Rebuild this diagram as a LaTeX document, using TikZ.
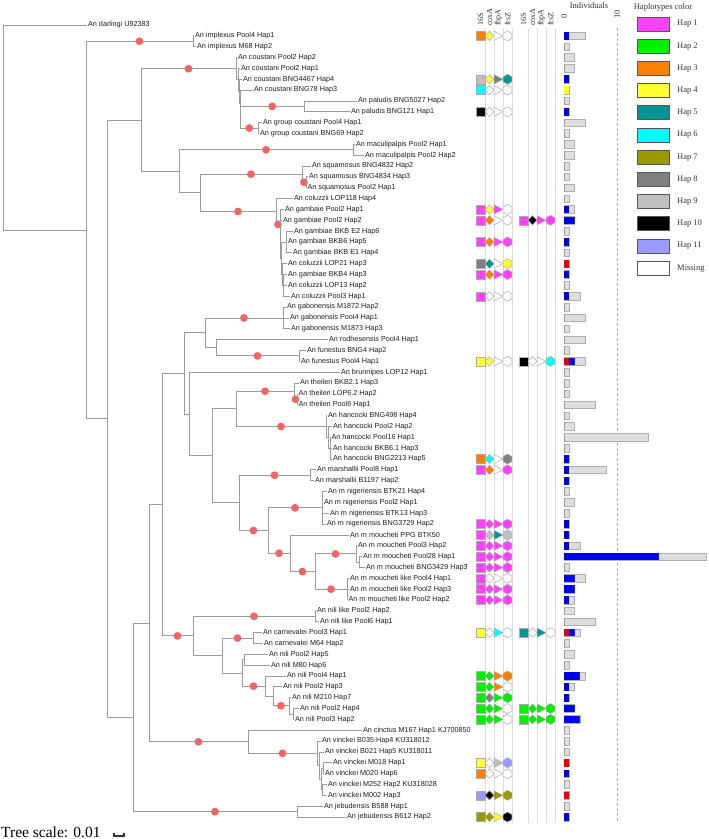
\documentclass[tikz,border=0pt]{standalone}
\usepackage{fontspec}
\setmainfont{Liberation Serif}
\newfontfamily\lsans{Liberation Sans}
\usetikzlibrary{calc}
\definecolor{treec}{RGB}{155,155,155}
\definecolor{supc}{RGB}{240,100,100}
\definecolor{labc}{RGB}{30,30,30}
\definecolor{serc}{RGB}{50,50,50}
\definecolor{colc}{RGB}{220,220,220}
\definecolor{symc}{RGB}{170,170,170}
\definecolor{barf}{RGB}{222,222,222}
\definecolor{barb}{RGB}{175,175,175}
\definecolor{barR}{RGB}{235,0,0}
\definecolor{barB}{RGB}{0,0,240}
\definecolor{barY}{RGB}{255,255,0}
\definecolor{legc}{RGB}{85,85,85}
\definecolor{hA}{RGB}{255,64,255}
\definecolor{hB}{RGB}{0,240,0}
\definecolor{hC}{RGB}{255,128,0}
\definecolor{hD}{RGB}{255,255,51}
\definecolor{hE}{RGB}{0,150,150}
\definecolor{hF}{RGB}{0,255,255}
\definecolor{hG}{RGB}{153,153,0}
\definecolor{hH}{RGB}{128,128,128}
\definecolor{hI}{RGB}{192,192,192}
\definecolor{hJ}{RGB}{0,0,0}
\definecolor{hK}{RGB}{153,153,255}
\definecolor{hM}{RGB}{255,255,255}
\tikzset{
  tree/.style={draw=treec, line width=0.9pt},
  sup/.style={fill=supc},
  lab/.style={anchor=west, inner sep=0pt, text=labc, font=\lsans\fontsize{7.25}{8}\selectfont},
  sym/.style={draw=symc, line width=0.5pt},
  barg/.style={fill=barf, draw=barb, line width=0.6pt},
  ser/.style={inner sep=0pt, text=serc, font=\fontsize{8.5}{10}\selectfont},
  legbox/.style={draw=legc, line width=0.9pt},
  colline/.style={draw=colc, line width=0.9pt}
}
\newcommand\tleaf[4]{\coordinate (#1) at (#3,{25+(#2-1)*10.85}); \node[lab] (#1t) at (#3+1.4,{25+(#2-1)*10.85}) {#4};}
\newcommand\inode[4]{\path let \p1=($(#3)!0.5!(#4)$) in coordinate (#1) at (#2pt,\y1);}
\newcommand\tedge[2]{\draw[tree] (#1) |- (#2);}
\newcommand\sedge[2]{\draw[tree] (#1) |- (#2); \fill[sup] ($(#1 |- #2)!0.5!(#2)$) circle[radius=3.9pt];}
\newcommand\hapset[6]{%
  \pgfmathsetmacro\yy{25+(#1-1)*10.85}%
  \filldraw[sym,fill=#3] (#2,\yy-4.5) rectangle (#2+9,\yy+4.5);
  \filldraw[sym,fill=#4] (#2+9,\yy) -- (#2+13.5,\yy-4.6) -- (#2+18,\yy) -- (#2+13.5,\yy+4.6) -- cycle;
  \filldraw[sym,fill=#5] (#2+18,\yy-4.6) -- (#2+27,\yy) -- (#2+18,\yy+4.6) -- cycle;
  \filldraw[sym,fill=#6] (#2+31.5,\yy-5) -- (#2+35.8,\yy-2.5) -- (#2+35.8,\yy+2.5) -- (#2+31.5,\yy+5) -- (#2+27.2,\yy+2.5) -- (#2+27.2,\yy-2.5) -- cycle;
}
\begin{document}
\begin{tikzpicture}[x=1pt,y=-1pt]
\fill[white] (0,0) rectangle (709,839);
\useasboundingbox (0,0) rectangle (709,839);
% ---------- leaves ----------
\tleaf{l1}{1}{86.5}{An darlingi U92383}
\tleaf{l2}{2}{193.5}{An implexus Pool4 Hap1}
\tleaf{l3}{3}{195.5}{An implexus M68 Hap2}
\tleaf{l4}{4}{236.5}{An coustani Pool2 Hap2}
\tleaf{l5}{5}{239.5}{An coustani Pool2 Hap1}
\tleaf{l6}{6}{241.5}{An coustani BNG4467 Hap4}
\tleaf{l7}{7}{252.5}{An coustani BNG78 Hap3}
\tleaf{l8}{8}{356.5}{An paludis BNG5027 Hap2}
\tleaf{l9}{9}{349.5}{An paludis BNG121 Hap1}
\tleaf{l10}{10}{261.5}{An group coustani Pool4 Hap1}
\tleaf{l11}{11}{258.5}{An group coustani BNG69 Hap2}
\tleaf{l12}{12}{354.5}{An maculipalpis Pool2 Hap1}
\tleaf{l13}{13}{363.5}{An maculipalpis Pool2 Hap2}
\tleaf{l14}{14}{310.5}{An squamosus BNG4832 Hap2}
\tleaf{l15}{15}{307.5}{An squamosus BNG4834 Hap3}
\tleaf{l16}{16}{306}{An squamosus Pool2 Hap1}
\tleaf{l17}{17}{292.5}{An coluzzii LOP118 Hap4}
\tleaf{l18}{18}{283.5}{An gambaie Pool2 Hap1}
\tleaf{l19}{19}{281.5}{An gambiae Pool2 Hap2}
\tleaf{l20}{20}{292.5}{An gambiae BKB E2 Hap6}
\tleaf{l21}{21}{286.5}{An gambiae BKB6 Hap5}
\tleaf{l22}{22}{291.5}{An gambiae BKB E1 Hap4}
\tleaf{l23}{23}{286.5}{An coluzzii LOP21 Hap3}
\tleaf{l24}{24}{286.5}{An gambiae BKB4 Hap3}
\tleaf{l25}{25}{286.5}{An coluzzii LOP13 Hap2}
\tleaf{l26}{26}{289.5}{An coluzzii Pool3 Hap1}
\tleaf{l27}{27}{285.5}{An gabonensis M1872 Hap2}
\tleaf{l28}{28}{288.5}{An gabonensis Pool4 Hap1}
\tleaf{l29}{29}{289.5}{An gabonensis M1873 Hap3}
\tleaf{l30}{30}{327.5}{An rodhesensis Pool4 Hap1}
\tleaf{l31}{31}{305.5}{An funestus BNG4 Hap2}
\tleaf{l32}{32}{299.5}{An funestus Pool4 Hap1}
\tleaf{l33}{33}{339.5}{An brunnipes LOP12 Hap1}
\tleaf{l34}{34}{298.5}{An theileri BKB2.1 Hap3}
\tleaf{l35}{35}{297}{An theileri LOP6.2 Hap2}
\tleaf{l36}{36}{297}{An theileri Pool6 Hap1}
\tleaf{l37}{37}{326.5}{An hancocki BNG498 Hap4}
\tleaf{l38}{38}{331.5}{An hancocki Pool2 Hap2}
\tleaf{l39}{39}{330}{An hancocki Pool16 Hap1}
\tleaf{l40}{40}{331.5}{An hancocki BKB6.1 Hap3}
\tleaf{l41}{41}{331.5}{An hancocki BNG2213 Hap5}
\tleaf{l42}{42}{315.5}{An marshallii Pool8 Hap1}
\tleaf{l43}{43}{313.5}{An marshallii B1197 Hap2}
\tleaf{l44}{44}{326.5}{An m nigeriensis BTK21 Hap4}
\tleaf{l45}{45}{322.5}{An m nigeriensis Pool2 Hap1}
\tleaf{l46}{46}{328.5}{An m nigeriensis BTK13 Hap3}
\tleaf{l47}{47}{325.5}{An m nigeriensis BNG3729 Hap2}
\tleaf{l48}{48}{348.5}{An m moucheti PPG BTK50}
\tleaf{l49}{49}{356.5}{An m moucheti Pool3 Hap2}
\tleaf{l50}{50}{361.5}{An m moucheti Pool28 Hap1}
\tleaf{l51}{51}{364.5}{An m moucheti BNG3429 Hap3}
\tleaf{l52}{52}{348.5}{An m moucheti like Pool4 Hap1}
\tleaf{l53}{53}{348.5}{An m moucheti like Pool2 Hap3}
\tleaf{l54}{54}{347}{An m moucheti like Pool2 Hap2}
\tleaf{l55}{55}{315.5}{An nili like Pool2 Hap2}
\tleaf{l56}{56}{318.5}{An nili like Pool6 Hap1}
\tleaf{l57}{57}{261.5}{An carnevalei Pool3 Hap1}
\tleaf{l58}{58}{262.5}{An carnevalei M64 Hap2}
\tleaf{l59}{59}{267.5}{An nili Pool2 Hap5}
\tleaf{l60}{60}{269.5}{An nili M80 Hap6}
\tleaf{l61}{61}{285.5}{An nili Pool4 Hap1}
\tleaf{l62}{62}{281.5}{An nili Pool2 Hap3}
\tleaf{l63}{63}{290.5}{An nili M210 Hap7}
\tleaf{l64}{64}{298.5}{An nili Pool2 Hap4}
\tleaf{l65}{65}{293.5}{An nili Pool3 Hap2}
\tleaf{l66}{66}{361.5}{An cinctus M167 Hap1 KJ700850}
\tleaf{l67}{67}{320.5}{An vinckei B035 Hap4 KU318012}
\tleaf{l68}{68}{323.5}{An vinckei B021 Hap5 KU318011}
\tleaf{l69}{69}{331.5}{An vinckei M018 Hap1}
\tleaf{l70}{70}{323.5}{An vinckei M020 Hap6}
\tleaf{l71}{71}{326.5}{An vinckei M252 Hap2 KU318028}
\tleaf{l72}{72}{326.5}{An vinckei M002 Hap3}
\tleaf{l73}{73}{322.5}{An jebudensis B588 Hap1}
\tleaf{l74}{74}{345.5}{An jebudensis B612 Hap2}
% ---------- internal nodes ----------
\inode{impl}{193}{l2}{l3}
\inode{pal}{304}{l8}{l9}
\inode{grp}{258}{l10}{l11}
\inode{E4}{240.5}{pal}{grp}
\inode{E3}{240}{l7}{E4}
\inode{E2}{239}{l6}{E3}
\inode{E1}{238}{l5}{E2}
\inode{E}{236}{l4}{E1}
\inode{mac}{353}{l12}{l13}
\inode{squB}{306}{l15}{l16}
\inode{squ}{302}{l14}{squB}
\inode{G2}{286}{l20}{l22}
\inode{G1e}{283}{l24}{l26}
\inode{G1d}{282}{l23}{G1e}
\inode{G1c}{281}{G2}{G1d}
\inode{G1b}{280.5}{l19}{G1c}
\inode{G1}{280}{l18}{G1b}
\inode{G0}{276}{l17}{G1}
\inode{F}{200}{squ}{G0}
\inode{D}{179}{mac}{F}
\inode{C}{141}{E}{D}
\inode{gab}{283}{l27}{l29}
\inode{fun}{299}{l31}{l32}
\inode{N3b}{216}{l30}{fun}
\inode{N3}{205}{gab}{N3b}
\inode{theB}{297}{l35}{l36}
\inode{the}{294}{l34}{theB}
\inode{hanC}{330}{l39}{l41}
\inode{hanB}{328}{l38}{hanC}
\inode{han}{326}{l37}{hanB}
\inode{N6}{236}{the}{han}
\inode{mar}{310}{l42}{l43}
\inode{nig}{322}{l44}{l47}
\inode{mouB}{359}{l50}{l51}
\inode{mou}{356}{l49}{mouB}
\inode{like}{347}{l52}{l54}
\inode{N10}{315}{mou}{like}
\inode{N9}{290}{l48}{N10}
\inode{N8}{268}{nig}{N9}
\inode{N7}{239}{mar}{N8}
\inode{N5}{212}{N6}{N7}
\inode{N4}{189}{l33}{N5}
\inode{N2}{184}{N3}{N4}
\inode{nl}{315}{l55}{l56}
\inode{car}{253}{l57}{l58}
\inode{S}{244}{l59}{l60}
\inode{W}{293}{l64}{l65}
\inode{V}{289}{l63}{W}
\inode{U}{273}{l62}{V}
\inode{T}{265}{l61}{U}
\inode{R}{242}{S}{T}
\inode{Q}{222}{car}{R}
\inode{nA}{193}{nl}{Q}
\inode{N1}{162}{N2}{nA}
\inode{vinE}{322}{l71}{l72}
\inode{vinD}{323}{l69}{l70}
\inode{vinC}{321}{vinD}{vinE}
\inode{vinB}{319}{l68}{vinC}
\inode{vin}{317}{l67}{vinB}
\inode{cv}{248}{l66}{vin}
\inode{Y}{149}{N1}{cv}
\inode{jeb}{297}{l73}{l74}
\inode{X}{133}{Y}{jeb}
\inode{B}{107}{C}{X}
\inode{A}{86}{impl}{B}
\inode{root}{3}{l1}{A}
% ---------- edges ----------
\tedge{root}{l1} \tedge{root}{A}
\sedge{A}{impl} \tedge{A}{B}
\tedge{impl}{l2} \tedge{impl}{l3}
\tedge{B}{C} \tedge{B}{X}
\sedge{C}{E} \tedge{C}{D}
\tedge{E}{l4} \tedge{E}{E1}
\tedge{E1}{l5} \tedge{E1}{E2}
\tedge{E2}{l6} \tedge{E2}{E3}
\tedge{E3}{l7} \tedge{E3}{E4}
\sedge{E4}{pal} \sedge{E4}{grp}
\tedge{pal}{l8} \tedge{pal}{l9}
\tedge{grp}{l10} \tedge{grp}{l11}
\sedge{D}{mac} \tedge{D}{F}
\tedge{mac}{l12} \tedge{mac}{l13}
\sedge{F}{squ} \sedge{F}{G0}
\tedge{squ}{l14} \sedge{squ}{squB}
\tedge{squB}{l15} \tedge{squB}{l16}
\tedge{G0}{l17} \sedge{G0}{G1}
\tedge{G1}{l18} \tedge{G1}{G1b}
\tedge{G1b}{l19} \tedge{G1b}{G1c}
\tedge{G1c}{G2} \tedge{G1c}{G1d}
\tedge{G2}{l20} \tedge{G2}{l21} \tedge{G2}{l22}
\tedge{G1d}{l23} \tedge{G1d}{G1e}
\tedge{G1e}{l24} \tedge{G1e}{l25} \tedge{G1e}{l26}
\tedge{X}{Y} \sedge{X}{jeb}
\tedge{jeb}{l73} \tedge{jeb}{l74}
\tedge{Y}{N1} \sedge{Y}{cv}
\tedge{cv}{l66} \sedge{cv}{vin}
\tedge{vin}{l67} \tedge{vin}{vinB}
\tedge{vinB}{l68} \tedge{vinB}{vinC}
\tedge{vinC}{vinD} \tedge{vinC}{vinE}
\tedge{vinD}{l69} \tedge{vinD}{l70}
\tedge{vinE}{l71} \tedge{vinE}{l72}
\tedge{N1}{N2} \sedge{N1}{nA}
\tedge{N2}{N3} \tedge{N2}{N4}
\sedge{N3}{gab} \tedge{N3}{N3b}
\tedge{gab}{l27} \tedge{gab}{l28} \tedge{gab}{l29}
\tedge{N3b}{l30} \sedge{N3b}{fun}
\tedge{fun}{l31} \tedge{fun}{l32}
\tedge{N4}{l33} \tedge{N4}{N5}
\tedge{N5}{N6} \tedge{N5}{N7}
\sedge{N6}{the} \sedge{N6}{han}
\tedge{the}{l34} \sedge{the}{theB}
\tedge{theB}{l35} \tedge{theB}{l36}
\tedge{han}{l37} \tedge{han}{hanB}
\tedge{hanB}{l38} \tedge{hanB}{hanC}
\tedge{hanC}{l39} \tedge{hanC}{l40} \tedge{hanC}{l41}
\sedge{N7}{mar} \sedge{N7}{N8}
\tedge{mar}{l42} \tedge{mar}{l43}
\sedge{N8}{nig} \sedge{N8}{N9}
\tedge{nig}{l44} \tedge{nig}{l45} \tedge{nig}{l46} \tedge{nig}{l47}
\tedge{N9}{l48} \sedge{N9}{N10}
\sedge{N10}{mou} \sedge{N10}{like}
\tedge{mou}{l49} \tedge{mou}{mouB}
\tedge{mouB}{l50} \tedge{mouB}{l51}
\tedge{like}{l52} \tedge{like}{l53} \tedge{like}{l54}
\sedge{nA}{nl} \tedge{nA}{Q}
\tedge{nl}{l55} \tedge{nl}{l56}
\sedge{Q}{car} \tedge{Q}{R}
\tedge{car}{l57} \tedge{car}{l58}
\tedge{R}{S} \sedge{R}{T}
\tedge{S}{l59} \tedge{S}{l60}
\tedge{T}{l61} \tedge{T}{U}
\tedge{U}{l62} \sedge{U}{V}
\tedge{V}{l63} \tedge{V}{W}
\tedge{W}{l64} \tedge{W}{l65}
% ---------- gene columns ----------
\foreach \cx in {485,494,503,512,528,537,546,555}{
  \draw[colline] (\cx,28) -- (\cx,823);
}
\foreach \cx/\gn/\nm in {480.5/16S/ga, 489.5/coxA/gb, 498.5/fbpA/gc, 507.5/ftsZ/gd, 523.5/16S/ge, 532.5/coxA/gf, 541.5/fbpA/gg, 550.5/ftsZ/gh}{
  \node[ser, rotate=90, anchor=west, font=\fontsize{8}{9}\selectfont] (\nm) at (\cx,26) {\gn};
}
\foreach \rw/\ca/\cb/\cc/\cd in {2/hC/hD/hM/hM, 6/hI/hD/hH/hE, 7/hF/hM/hM/hM, 9/hJ/hM/hM/hM,
  18/hA/hD/hA/hM, 19/hA/hC/hM/hM, 21/hA/hC/hA/hA, 23/hH/hE/hM/hD, 24/hA/hC/hA/hA,
  26/hA/hM/hM/hM, 32/hD/hD/hM/hM, 41/hC/hF/hM/hH, 42/hA/hC/hM/hA, 47/hA/hA/hA/hA,
  48/hA/hI/hE/hI, 49/hA/hA/hA/hA, 50/hA/hA/hA/hA, 51/hA/hA/hA/hA, 52/hA/hM/hM/hM,
  53/hA/hA/hA/hA, 54/hA/hA/hA/hA, 57/hD/hM/hF/hM, 61/hB/hB/hC/hC, 62/hB/hB/hC/hM,
  63/hB/hH/hB/hB, 64/hB/hB/hB/hM, 65/hB/hB/hB/hM, 69/hD/hM/hI/hK, 70/hC/hM/hM/hM,
  72/hK/hJ/hG/hG, 74/hG/hG/hD/hJ}{
  \hapset{\rw}{476}{\ca}{\cb}{\cc}{\cd}
}
\foreach \rw/\ca/\cb/\cc/\cd in {19/hA/hJ/hA/hA, 32/hJ/hM/hM/hF, 57/hE/hM/hE/hM, 64/hB/hB/hB/hB, 65/hB/hB/hB/hB}{
  \hapset{\rw}{519}{\ca}{\cb}{\cc}{\cd}
}
% ---------- individuals bars ----------
\node[ser] (indiv) at (589,5.5) {Individuals};
\node[ser, rotate=90, anchor=west] (ax0) at (564,18.5) {0};
\node[ser, rotate=90, anchor=west] (ax10) at (617,18.5) {10};
\draw[draw=barb, dashed, line width=0.6pt, dash pattern=on 3pt off 2pt] (617,28) -- (617,823);
\foreach \rw/\na/\nb/\nc/\nt in {2/0/1/0/4, 3/0/0/0/1, 4/0/0/0/2, 5/0/0/0/2, 6/0/1/0/1, 7/0/0/1/1,
  8/0/0/0/1, 9/0/1/0/1, 10/0/0/0/4, 11/0/0/0/1, 12/0/0/0/2, 13/0/0/0/2, 14/0/0/0/1, 15/0/0/0/1,
  16/0/0/0/2, 17/0/0/0/1, 18/0/1/0/2, 19/0/2/0/2, 20/0/0/0/1, 21/0/1/0/1, 22/0/0/0/1, 23/1/0/0/1,
  24/0/1/0/1, 25/0/0/0/1, 26/0/1/0/3, 27/0/0/0/1, 28/0/0/0/4, 29/0/0/0/1, 30/0/0/0/4, 31/0/0/0/1,
  32/1/1/0/4, 33/0/0/0/1, 34/0/0/0/1, 35/0/0/0/1, 36/0/0/0/6, 37/0/0/0/1, 38/0/0/0/2, 39/0/0/0/16,
  40/0/0/0/1, 41/0/1/0/1, 42/0/1/0/8, 43/0/1/0/1, 44/0/0/0/1, 45/0/0/0/2, 46/0/0/0/1, 47/0/1/0/1,
  48/0/1/0/1, 49/0/1/0/3, 50/0/18/0/27, 51/0/0/0/1, 52/0/2/0/4, 53/0/2/0/2, 54/0/1/0/2, 55/0/0/0/2,
  56/0/0/0/6, 57/1/1/0/3, 58/0/0/0/1, 59/0/0/0/2, 60/0/0/0/1, 61/0/3/0/4, 62/0/1/0/2, 63/0/1/0/1,
  64/0/2/0/2, 65/0/3/0/3, 66/0/0/0/1, 67/0/0/0/1, 68/0/0/0/1, 69/1/0/0/1, 70/0/1/0/1, 71/0/0/0/1,
  72/1/0/0/1, 73/0/0/0/1, 74/0/1/0/1}{
  \pgfmathsetmacro\yy{25+(\rw-1)*10.85}
  \filldraw[barg] (564,\yy-3.8) rectangle (564+\nt*5.27,\yy+3.8);
  \fill[barR] (564,\yy-3.8) rectangle (564+\na*5.27,\yy+3.8);
  \fill[barB] (564+\na*5.27,\yy-3.8) rectangle (564+\na*5.27+\nb*5.27,\yy+3.8);
  \fill[barY] (564+\na*5.27+\nb*5.27,\yy-3.8) rectangle (564+\na*5.27+\nb*5.27+\nc*5.27,\yy+3.8);
}
% ---------- legend ----------
\node[ser] (legt) at (663,7) {Haplotypes color};
\foreach \k/\cl/\tx in {1/hA/Hap 1, 2/hB/Hap 2, 3/hC/Hap 3, 4/hD/Hap 4, 5/hE/Hap 5, 6/hF/Hap 6,
  7/hG/Hap 7, 8/hH/Hap 8, 9/hI/Hap 9, 10/hJ/Hap 10, 11/hK/Hap 11, 12/hM/Missing}{
  \pgfmathsetmacro\yy{24+(\k-1)*22.2}
  \filldraw[legbox, fill=\cl] (637,\yy-7) rectangle (669,\yy+7);
  \node[ser, anchor=west] (leg\k) at (677,\yy) {\tx};
}
% ---------- tree scale ----------
\node[anchor=base west, inner sep=0pt, text=black, font=\fontsize{15.5}{17}\selectfont] (tscale) at (1,837) {Tree scale: 0.01};
\draw[line width=1.1pt, draw=black!80] (114,833) -- (114,836) -- (124,836) -- (124,833);
\end{tikzpicture}
\end{document}
